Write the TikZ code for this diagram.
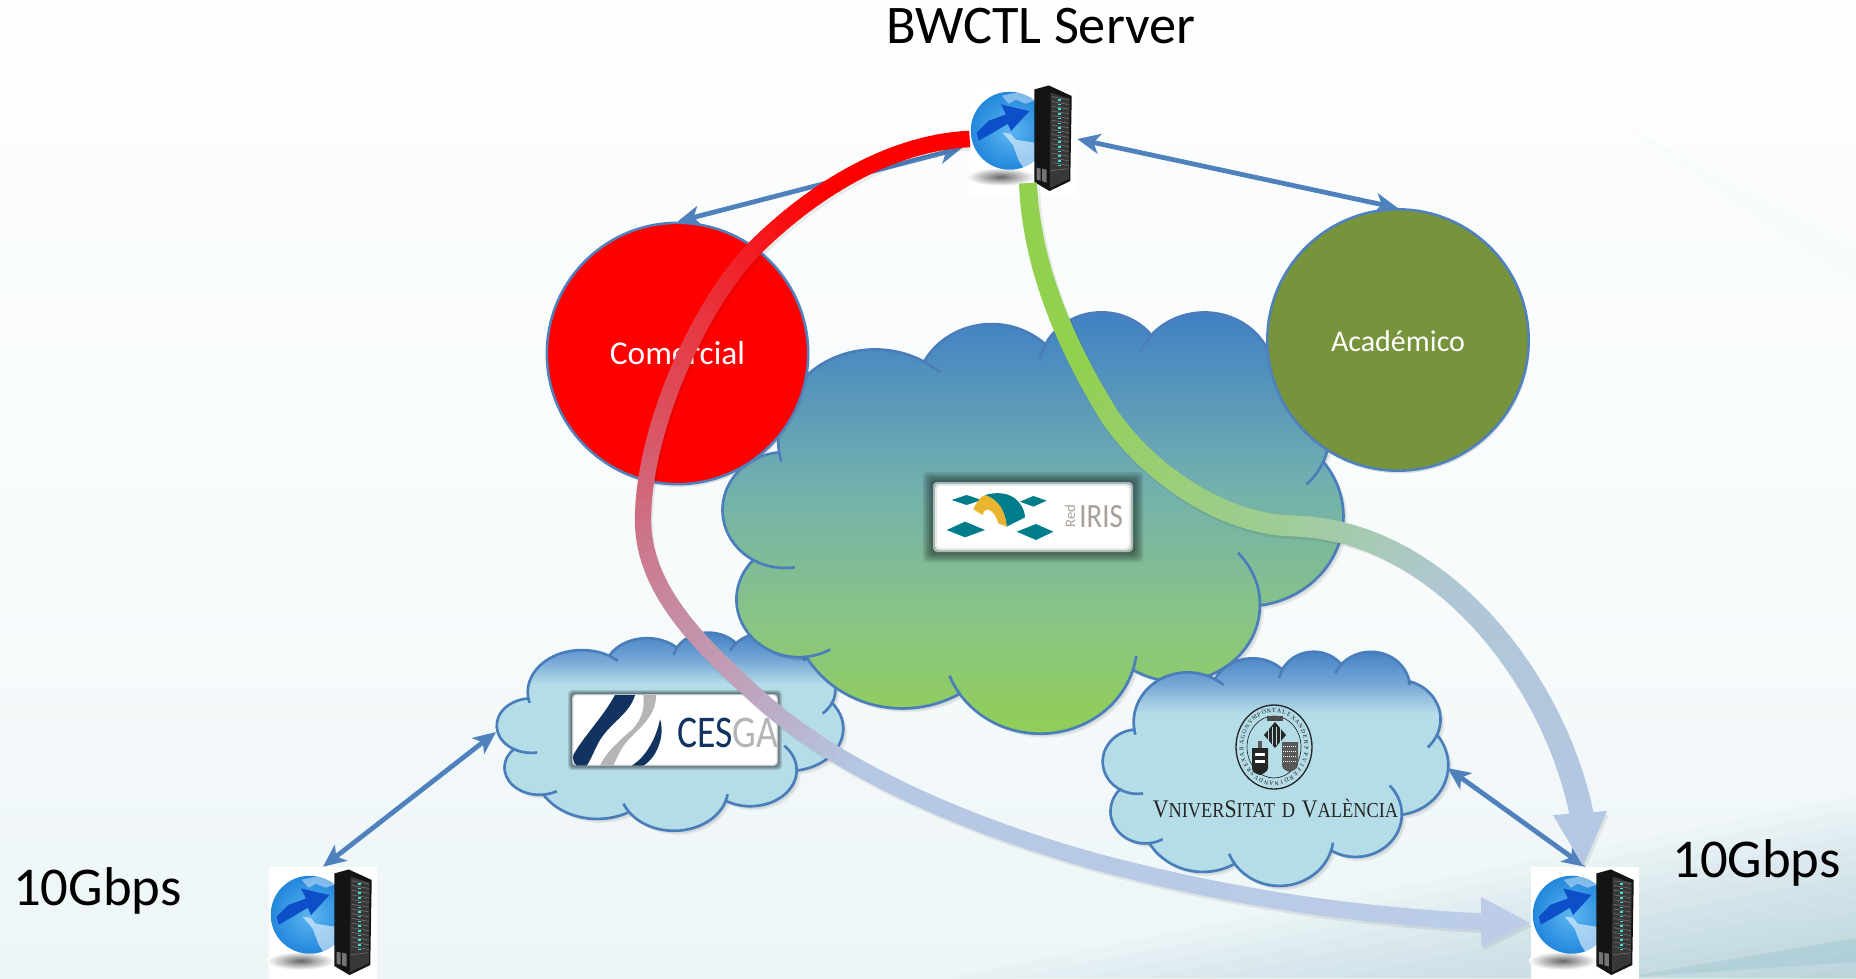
\documentclass[tikz,border=0pt]{standalone}
\usepackage{fontspec}
\usepackage{graphicx}
\usetikzlibrary{arrows.meta,shadows}
\setmainfont{Carlito}
\newfontfamily\uvfont{Liberation Serif}
\definecolor{linkblue}{HTML}{4F81BD}
\definecolor{cloudblue}{HTML}{4A7EBB}
\definecolor{bgA}{HTML}{FDFEFE}
\definecolor{bgB}{HTML}{F7FBFC}
\definecolor{bgC}{HTML}{EDF5F7}
\definecolor{bgD}{HTML}{8FBCC9}
\definecolor{bigA}{HTML}{3E7EC6}
\definecolor{bigB}{HTML}{72B0AE}
\definecolor{bigC}{HTML}{8AC583}
\definecolor{bigD}{HTML}{92D050}
\definecolor{smallA}{HTML}{3F7DC4}
\definecolor{smallB}{HTML}{76A7D6}
\definecolor{smallC}{HTML}{B5DDE8}
\definecolor{acadgreen}{HTML}{77933C}
\definecolor{irisgreen}{HTML}{007D8A}
\definecolor{irisgold}{HTML}{E9B52E}
\definecolor{irisgray}{HTML}{A79F98}
\definecolor{cesganavy}{HTML}{12325F}
\definecolor{cesgagray}{HTML}{B5B5B5}
\definecolor{globeA}{HTML}{5CB6F0}
\definecolor{globeB}{HTML}{2387DC}
\definecolor{globeArrow}{HTML}{0C4FC8}
\definecolor{rackled}{HTML}{3FE0D0}
% flow arrow colours: start, two stops, end
\definecolor{redA}{HTML}{FF0000}
\definecolor{redB}{HTML}{CE7084}
\definecolor{redC}{HTML}{B4C7E3}
\definecolor{redD}{HTML}{BDCDE8}
\definecolor{grnA}{HTML}{92D050}
\definecolor{grnB}{HTML}{A0CC9A}
\definecolor{grnC}{HTML}{B0C7D6}
\definecolor{grnD}{HTML}{B4C7E3}
\pgfdeclareverticalshading{slidebg}{100bp}{color(0bp)=(bgC); color(25bp)=(bgC); color(45bp)=(bgB); color(75bp)=(bgA); color(100bp)=(bgA)}
\pgfdeclareverticalshading{bigcloud}{100bp}{color(0bp)=(bigD); color(25bp)=(bigD); color(38.5bp)=(bigC); color(54.5bp)=(bigB); color(75bp)=(bigA); color(100bp)=(bigA)}
\pgfdeclareverticalshading{smallcloud}{100bp}{color(0bp)=(smallC); color(25bp)=(smallC); color(61.5bp)=(smallC); color(67.5bp)=(smallB); color(75bp)=(smallA); color(100bp)=(smallA)}
% angle on the ellipse to arc parameter
\newcommand{\ellang}[3]{(#1)+atan2((#2-#3)*sin(#1)*cos(#1),#2*sin(#1)*sin(#1)+#3*cos(#1)*cos(#1))}
\newcommand{\cloudarc}[4]{arc[x radius=#1,y radius=#2,start angle={\ellang{#3}{#1}{#2}},end angle={\ellang{#3+#4}{#1}{#2}}]}
\newcommand{\cloudpath}{(3.9,14.37) coordinate (k0)
  \cloudarc{6.753}{9.19}{-190.487}{123.78} coordinate (k1)
  \cloudarc{5.333}{7.267}{-144.102}{89.945} coordinate (k2)
  \cloudarc{4.365}{5.945}{-145.808}{99.723} coordinate (k3)
  \cloudarc{4.857}{6.595}{-130.986}{117.242} coordinate (k4)
  \cloudarc{5.333}{7.273}{-78.709}{109.027} coordinate (k5)
  \cloudarc{6.775}{9.22}{-46.267}{130.269} coordinate (k6)
  \cloudarc{5.785}{7.867}{0.625}{114.033} coordinate (k7)
  \cloudarc{6.752}{9.215}{22.452}{115.173} coordinate (k8)
  \cloudarc{7.72}{10.543}{66.243}{75.711} coordinate (k9)
  \cloudarc{4.36}{5.918}{-274.942}{146.735} coordinate (k10)
  \cloudarc{4.345}{5.945}{-246.829}{152.519} -- cycle}
\newcommand{\cloudshape}[5]{%
  \begin{scope}[shift={(#1,#2)},x=1cm,y=1cm,xscale=#3*.026365/43.2,yscale=-#4*.026365/43.2]
    \foreach \d in {1pt,2pt,3pt}
      \fill[black,opacity=.06,transform canvas={shift={(\d,-\d)}}] \cloudpath;
    \draw[cloudline,shade,shading=#5] \cloudpath;
    % inner ticks of the lobes
    \draw[cloudline] (k0) \cloudarc{6.753}{9.19}{-190.487}{-9};
    \draw[cloudline] (k1) \cloudarc{6.753}{9.19}{-66.707}{10};
    \draw[cloudline] (k2) \cloudarc{4.365}{5.945}{-145.808}{-20};
    \draw[cloudline] (k3) \cloudarc{4.857}{6.595}{-130.986}{-18};
    \draw[cloudline] (k4) \cloudarc{4.857}{6.595}{-13.744}{8};
    \draw[cloudline] (k5) \cloudarc{5.333}{7.273}{30.318}{24};
    \draw[cloudline] (k6) \cloudarc{5.785}{7.867}{0.625}{-52};
    \draw[cloudline] (k7) \cloudarc{6.752}{9.215}{22.452}{-12};
    \draw[cloudline] (k8) \cloudarc{6.752}{9.215}{137.625}{15};
    \draw[cloudline] (k9) \cloudarc{4.36}{5.918}{-274.942}{-18};
    \draw[cloudline] (k10) \cloudarc{4.345}{5.945}{-246.829}{-30};
  \end{scope}}
% white logo card with a soft grey edge
\newcommand{\softcard}[5]{%
  \foreach \g in {1,.8,.6,.4,.2}
    \fill[black,opacity=.11,rounded corners=3pt] ({#1-\g*#5},{#2-\g*#5}) rectangle ({#3+\g*#5},{#4+\g*#5});
  \fill[white,opacity=.55,rounded corners=3pt] ({#1},{#2}) rectangle ({#3},{#4});
  \fill[white,opacity=.7,rounded corners=3pt] ({#1+.2*#5},{#2+.2*#5}) rectangle ({#3-.2*#5},{#4-.2*#5});
  \fill[white,rounded corners=3pt] ({#1+.4*#5},{#2+.4*#5}) rectangle ({#3-.4*#5},{#4-.4*#5});}
\newcommand{\uvsm}[1]{{\fontsize{16}{16}\selectfont #1}}
% one curve of a flow arrow: four points, position and width at both ends
\newcommand{\flowspan}[8]{%
  \foreach \s in {1,...,30} {
    \pgfmathsetmacro{\flowf}{#5+(\s-.5)/30*(#6-#5)}
    \pgfmathsetmacro{\floww}{#7+(\s-.5)/30*(#8-#7)}
    \ifdim\flowf pt<\flowmid pt
      \pgfmathsetmacro{\flowp}{100*max(0,(\flowf-\flowhold)/(\flowmid-\flowhold))}\colorlet{flowc}{\flowkey B!\flowp!\flowkey A}
    \else\ifdim\flowf pt<\flowlate pt
      \pgfmathsetmacro{\flowp}{100*(\flowf-\flowmid)/(\flowlate-\flowmid)}\colorlet{flowc}{\flowkey C!\flowp!\flowkey B}
    \else
      \pgfmathsetmacro{\flowp}{100*(\flowf-\flowlate)/(1-\flowlate)}\colorlet{flowc}{\flowkey D!\flowp!\flowkey C}
    \fi\fi
    \path (#1) .. controls (#2) and (#3) .. (#4) coordinate[pos={(\s-1)/30}] (flowu) coordinate[pos={\s/30}] (flowv);
    \draw[flowc,line width=\floww pt,shorten <=-.7pt] (flowu) -- (flowv);
  }}
\tikzset{
  cloudline/.style={draw=cloudblue,line width=2pt},
  areacircle/.style={circle,draw=linkblue,line width=1.9pt,minimum size=196pt,inner sep=0pt,text=white,
    drop shadow={opacity=.22,shadow xshift=1pt,shadow yshift=-2pt}},
  linkarrow/.style={draw=linkblue,line width=3.6pt,{Stealth[length=17pt,width=15pt,inset=4.5pt]}-{Stealth[length=17pt,width=15pt,inset=4.5pt]}},
  serverbox/.style={fill=white,minimum width=81pt,minimum height=84pt,inner sep=0pt},
  bigtext/.style={font=\fontsize{41}{41}\selectfont,text=black,anchor=base west,inner sep=0pt},
  sealtxt/.style={font=\uvfont\fontsize{4.4}{5}\selectfont,text=black!90,inner sep=0pt},
  flowhalo/.style={draw=black,line width=#1,opacity=.07,transform canvas={shift={(1.5pt,-2.5pt)}}},
  flowheadhalo/.style={black,opacity=.07,transform canvas={shift={(1.5pt,-2.5pt)}}},
  serverpic/.pic={
    % ground shadow
    \shade[inner color=black!60,outer color=white] (32,94) ellipse (34 and 9);
    % ring behind the globe
    \draw[line width=2.2pt,draw=globeB] (22,36) .. controls (5,42) and (2,57) .. (11,60) .. controls (17,61) and (24,55) .. (30,50);
    % globe
    \shade[inner color=globeA,outer color=globeB] (41,48) circle (39);
    \fill[white,opacity=.42] (33,13) -- (52,9) -- (66,18) -- (57,21) -- (47,17) -- (40,21) -- cycle;
    \fill[white,opacity=.55] (34,50) -- (42,51) -- (47,57) -- (66,60) -- (66,88) -- (56,87) -- (50,78) -- (44,62) -- cycle;
    % arrow across the globe
    \fill[globeArrow] (8,50) -- (20,38) -- (37.3,31.7) -- (32.3,21.7) -- (60.7,28.3) -- (42.3,48.3) -- (39,41) -- (24,50) -- (10,58) -- cycle;
    % rack
    \fill[black!92] (65.7,6.7) -- (80,2.7) -- (103,13.3) -- (101.5,98.3) -- (80.7,108.3) -- (65.7,99.3) -- cycle;
    \fill[black!78] (82,10) -- (101,16) -- (100,96.5) -- (81,105.5) -- cycle;
    \foreach \r in {0,...,14} {
      \draw[black!55,line width=.45pt] (83,{14+4.7*\r}) -- (100,{17+4.7*\r});
      \fill[rackled] (89.5,{16.3+4.7*\r}) rectangle (92.5,{17.8+4.7*\r});
    }
    \draw[black!55,line width=.4pt] (82,88) -- (100,86);
    \fill[black!55] (68,85) -- (72,86) -- (72,98) -- (68,97) -- cycle;
    \fill[black!55] (73.5,86) -- (78,87) -- (78,100) -- (73.5,98.5) -- cycle;
  }
}
\begin{document}
\begin{tikzpicture}[x=.75pt,y=-.75pt]
\useasboundingbox (0,0) rectangle (1856,978);
\clip (0,0) rectangle (1856,978);
% Slide background
\shade[shading=slidebg] (0,0) rectangle (1856,978);
\foreach \k in {1,...,14}
  \fill[bgD,opacity=.045] ({1856-\k*65},978) -- (1856,{978-\k*13}) -- (1856,978) -- cycle;
\fill[bgD,opacity=.3] (1620,978) -- (1856,938) -- (1856,962) -- cycle;
\foreach \k in {1,2}
  \fill[bgD,opacity=.012] (1630,130) -- (1856,{235+\k*8}) -- (1856,{300-\k*8}) -- cycle;

% Named places
\node[serverbox] (srvTop) at (1023,139) {};
\node[serverbox] (srvLeft) at (323,923) {};
\node[serverbox] (srvRight) at (1585,923) {};
\coordinate (srvTopLow) at (962,148);
\coordinate (cesgaEdge) at (496,732);
\coordinate (uvEdge) at (1447.5,768);

% Clouds
\cloudshape{497}{632}{346}{198}{smallcloud}
\cloudshape{723}{311}{620}{421}{bigcloud}
\cloudshape{1103}{651}{345}{234}{smallcloud}

% Areas
\node[areacircle,fill=red,font=\fontsize{25}{25}\selectfont] (comercial) at (677.5,353.5) {\raisebox{-8.6pt}[0pt][0pt]{Comercial}};
\node[areacircle,fill=acadgreen,font=\fontsize{22.5}{24}\selectfont] (academico) at (1398,340) {\raisebox{-8.3pt}[0pt][0pt]{Académico}};

% Thin links
\draw[linkarrow] (srvTopLow) -- (comercial.north);
\draw[linkarrow] (srvTop.east) -- (academico.north);
\draw[linkarrow] (srvLeft.north) -- (cesgaEdge);
\draw[linkarrow] (srvRight.north) -- (uvEdge);

% RedIRIS card
\softcard{933}{482}{1133}{552}{10}
\begin{scope}[shift={(910,460)},scale=.33333]
  \fill[irisgreen] (125,120) -- (170,105) -- (215,120) -- (170,135) -- cycle;
  \fill[irisgreen] (110,210) -- (165,185) -- (225,210) -- (165,232) -- cycle;
  \fill[irisgreen] (330,125) -- (370,108) -- (410,122) -- (370,140) -- cycle;
  \fill[irisgreen] (320,215) -- (378,192) -- (430,215) -- (378,240) -- cycle;
  \fill[irisgreen] (225,105) .. controls (255,96) and (300,95) .. (325,125) .. controls (340,142) and (345,160) .. (345,172) -- (290,200) .. controls (285,150) and (265,120) .. (225,105) -- cycle;
  \fill[irisgold] (190,148) .. controls (200,125) and (212,110) .. (225,105) .. controls (265,120) and (285,150) .. (290,200) -- (265,190) .. controls (258,165) and (245,150) .. (232,148) .. controls (225,148) and (220,155) .. (218,165) -- cycle;
\end{scope}
\node[text=irisgray,rotate=90,font=\fontsize{11}{11}\selectfont,inner sep=0pt] (irisRed) at (1070,516) {Red};
\node[text=irisgray,font=\fontsize{25.5}{25.5}\selectfont,anchor=base west,inner sep=0pt] (irisName) at (1079,527) {\scalebox{.85}[1]{IRIS}};

% CESGA card
\softcard{572}{694}{778}{766}{4}
\begin{scope}[shift={(480,620)},scale=.33333]
  \fill[cesganavy] (405,225) -- (465,225) .. controls (450,280) and (390,310) .. (360,360) .. controls (345,385) and (335,415) .. (320,437) -- (290,437) .. controls (280,430) and (278,415) .. (280,405) .. controls (310,350) and (370,290) .. (405,225) -- cycle;
  \fill[cesgagray] (490,225) -- (528,225) .. controls (530,290) and (470,330) .. (440,365) .. controls (420,390) and (410,415) .. (400,437) -- (360,437) .. controls (375,400) and (420,360) .. (455,330) .. controls (485,300) and (495,265) .. (490,225) -- cycle;
  \fill[cesganavy] (540,298) .. controls (555,340) and (535,410) .. (490,437) -- (455,437) .. controls (500,410) and (530,350) .. (540,298) -- cycle;
\end{scope}
\node[anchor=base west,inner sep=0pt,font=\fontsize{34}{34}\selectfont] (cesgaName) at (677,747) {\scalebox{.83}[1]{\textcolor{cesganavy}{CES}\textcolor{cesgagray}{GA}}};

% Universitat seal and name
\draw[black!85,line width=1pt] (1274,747) ellipse (38 and 42);
\draw[black!85,line width=.5pt] (1274,747) ellipse (27 and 31);
\foreach \ch [count=\n] in {A,L,E,X,A,N,D,E,R,P,P,V,I,F,E,R,D,I,N,A,N,D,V,S,R,E,X,A,R,A,G,O,N,V,M,P,O,N,T} {
  \node[sealtxt,rotate={90-\n*9.23-90}] (seal\n) at ({1274+32.5*cos(90-\n*9.23)},{747-36.5*sin(90-\n*9.23)}) {\ch};
}
\fill[black!85] (1264,735) -- (1275,722) -- (1286,735) -- (1275,748) -- cycle;
\foreach \s in {1268,1272,1276,1280}
  \draw[smallC,line width=.7pt] (\s,727) -- (\s,745);
\fill[black!70] (1267,721) rectangle (1283,716);
\fill[black!85] (1252,748) -- (1268,748) -- (1268,768) .. controls (1268,772) and (1262,774) .. (1260,775) .. controls (1256,774) and (1252,772) .. (1252,768) -- cycle;
\fill[white] (1255,753) rectangle (1265,756);
\fill[white] (1255,760) rectangle (1265,763);
\fill[black!65] (1258,741) rectangle (1262,748);
\fill[black!65] (1282,742) -- (1298,742) -- (1298,765) .. controls (1298,769) and (1292,771) .. (1290,772) .. controls (1286,771) and (1282,769) .. (1282,765) -- cycle;
\foreach \s in {746,751,756,761}
  \draw[white,line width=.5pt,densely dotted] (1283,\s) -- (1297,\s);
\node[anchor=base,inner sep=0pt,text=black!85] (uvName) at (1275.5,817) {\uvfont\scalebox{.86}[1]{\fontsize{19}{19}\selectfont V\uvsm{NIVER}S\uvsm{ITAT}\hspace{6pt}\uvsm{D}\hspace{6pt}V\uvsm{ALÈNCIA}}};

% Server icons
\pic at (srvTop.north west) {serverpic};
\pic at (srvLeft.north west) {serverpic};
\pic at (srvRight.north west) {serverpic};

% Red flow arrow
\coordinate (redEnd) at (1483,922);
\coordinate (redTip) at (1530,923);
\coordinate (redHeadA) at (1481,897);
\coordinate (redHeadB) at (1481,947);
\def\flowkey{red}\def\flowhold{.1}\def\flowmid{.355}\def\flowlate{.58}
\draw[flowhalo=12pt] (srvTop.west) .. controls (890,143) and (815,190) .. (760,243) .. controls (700,300) and (643,430) .. (643,520) .. controls (643,590) and (700,645) .. (761,700) .. controls (845,775) and (980,830) .. (1101,863) .. controls (1230,897) and (1350,915) .. (redEnd);
\fill[flowheadhalo] (redTip) -- (redHeadA) -- (redHeadB) -- cycle;
\flowspan{srvTop.west}{890,143}{815,190}{760,243}{0}{.155}{12.4}{12.3}
\flowspan{760,243}{700,300}{643,430}{643,520}{.155}{.355}{12.3}{12.2}
\flowspan{643,520}{643,590}{700,645}{761,700}{.355}{.5}{12.2}{12.4}
\flowspan{761,700}{845,775}{980,830}{1101,863}{.5}{.745}{12.4}{12.6}
\flowspan{1101,863}{1230,897}{1350,915}{redEnd}{.745}{1}{12.6}{12.8}
\fill[redD] (redTip) -- (redHeadA) -- (redHeadB) -- cycle;

% Green flow arrow
\coordinate (grnStart) at (1028,184);
\coordinate (grnEnd) at (1582,816);
\coordinate (grnTip) at (1583,866);
\coordinate (grnHeadA) at (1553,815);
\coordinate (grnHeadB) at (1607,811);
\def\flowkey{grn}\def\flowhold{.2}\def\flowmid{.516}\def\flowlate{.714}
\draw[flowhalo=15pt] (grnStart) .. controls (1032,280) and (1078,365) .. (1110,417) .. controls (1150,475) and (1225,525) .. (1294,526) .. controls (1440,530) and (1555,680) .. (grnEnd);
\fill[flowheadhalo] (grnTip) -- (grnHeadA) -- (grnHeadB) -- cycle;
\flowspan{grnStart}{1032,280}{1078,365}{1110,417}{0}{.275}{13.4}{14.6}
\flowspan{1110,417}{1150,475}{1225,525}{1294,526}{.275}{.516}{14.6}{15.6}
\flowspan{1294,526}{1440,530}{1555,680}{grnEnd}{.516}{1}{15.6}{18}
\fill[grnD] (grnTip) -- (grnHeadA) -- (grnHeadB) -- cycle;

% Labels
\node[font=\fontsize{40.8}{41}\selectfont,anchor=base,inner sep=0pt] (title) at (1041,43) {BWCTL Server};
\node[bigtext] (speedLeft) at (13,905) {10Gbps};
\node[bigtext] (speedRight) at (1672,877) {10Gbps};
\end{tikzpicture}
\end{document}
